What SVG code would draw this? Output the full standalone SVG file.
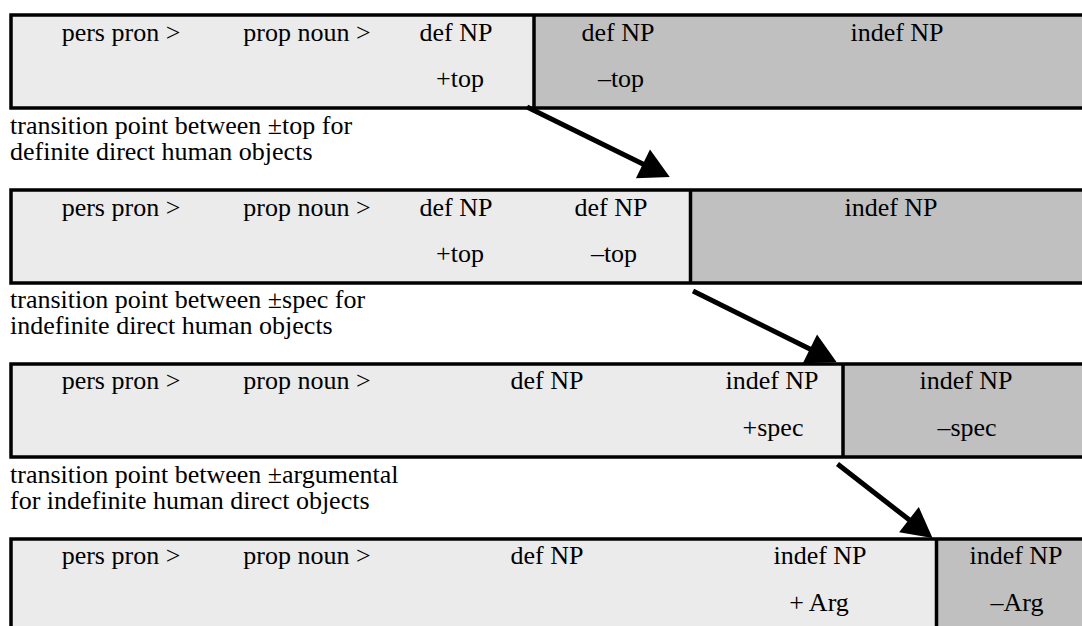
<svg xmlns="http://www.w3.org/2000/svg" width="1082" height="626" viewBox="0 0 1082 626">
<style>
text{font-family:"Liberation Serif","Times New Roman",serif;font-size:26px;fill:#000}
.c{text-anchor:middle}
.light{fill:#ebebeb}
.dark{fill:#c0c0c0}
.frame{fill:none;stroke:#000;stroke-width:3.5}
.div{stroke:#000;stroke-width:3.5}
.arrow{stroke:#000;stroke-width:5;fill:none;marker-end:url(#ah)}
</style>
<defs>
<marker id="ah" markerUnits="userSpaceOnUse" markerWidth="30" markerHeight="32" viewBox="0 0 28 30" refX="1" refY="15" orient="auto" overflow="visible">
<path d="M0,0 L28,15 L0,30 Z" fill="#000"/>
</marker>
</defs>
<rect width="1082" height="626" fill="#fff"/>

<g id="bar1">
<rect class="light" x="11" y="15" width="1090" height="93"/>
<rect class="dark" x="534" y="15" width="560" height="93"/>
<line class="div" x1="534" y1="15" x2="534" y2="108"/>
<rect class="frame" x="11" y="15" width="1090" height="93"/>
<text class="c" x="121" y="40.5">pers pron &gt;</text>
<text class="c" x="307" y="40.5">prop noun &gt;</text>
<text class="c" x="456" y="40.5">def NP</text>
<text class="c" x="460" y="87">+top</text>
<text class="c" x="618" y="40.5">def NP</text>
<text class="c" x="621" y="87">–top</text>
<text class="c" x="897" y="40.5">indef NP</text>
</g>

<g id="caption1">
<text x="10" y="133.5">transition point between ±top for</text>
<text x="10" y="159.5">definite direct human objects</text>
</g>

<g id="bar2">
<rect class="light" x="11" y="190" width="1090" height="93"/>
<rect class="dark" x="690.5" y="190" width="400" height="93"/>
<line class="div" x1="690.5" y1="190" x2="690.5" y2="283"/>
<rect class="frame" x="11" y="190" width="1090" height="93"/>
<text class="c" x="121" y="215.5">pers pron &gt;</text>
<text class="c" x="307" y="215.5">prop noun &gt;</text>
<text class="c" x="456" y="215.5">def NP</text>
<text class="c" x="460" y="262">+top</text>
<text class="c" x="611" y="215.5">def NP</text>
<text class="c" x="614" y="262">–top</text>
<text class="c" x="891" y="215.5">indef NP</text>
</g>

<g id="caption2">
<text x="10" y="308">transition point between ±spec for</text>
<text x="10" y="334">indefinite direct human objects</text>
</g>

<g id="bar3">
<rect class="light" x="11" y="364" width="1090" height="93"/>
<rect class="dark" x="843" y="364" width="250" height="93"/>
<line class="div" x1="843" y1="364" x2="843" y2="457"/>
<rect class="frame" x="11" y="364" width="1090" height="93"/>
<text class="c" x="121" y="389">pers pron &gt;</text>
<text class="c" x="307" y="389">prop noun &gt;</text>
<text class="c" x="547" y="389">def NP</text>
<text class="c" x="772" y="389">indef NP</text>
<text class="c" x="773" y="435.5">+spec</text>
<text class="c" x="966" y="389">indef NP</text>
<text class="c" x="967" y="435.5">–spec</text>
</g>

<g id="caption3">
<text x="10" y="482.5">transition point between ±argumental</text>
<text x="10" y="508.5">for indefinite human direct objects</text>
</g>

<g id="bar4">
<rect class="light" x="11" y="539" width="1090" height="93"/>
<rect class="dark" x="936.5" y="539" width="160" height="93"/>
<line class="div" x1="936.5" y1="539" x2="936.5" y2="632"/>
<rect class="frame" x="11" y="539" width="1090" height="93"/>
<text class="c" x="121" y="564">pers pron &gt;</text>
<text class="c" x="307" y="564">prop noun &gt;</text>
<text class="c" x="547" y="564">def NP</text>
<text class="c" x="820" y="564">indef NP</text>
<text class="c" x="819" y="610.5">+ Arg</text>
<text class="c" x="1016" y="564">indef NP</text>
<text class="c" x="1017" y="610.5">–Arg</text>
</g>

<g id="connectors">
<line class="arrow" x1="527" y1="107" x2="643.9" y2="164.4"/>
<line class="arrow" x1="693" y1="291" x2="810.9" y2="349.4"/>
<line class="arrow" x1="837.5" y1="464" x2="909.8" y2="520.3"/>
</g>
</svg>
